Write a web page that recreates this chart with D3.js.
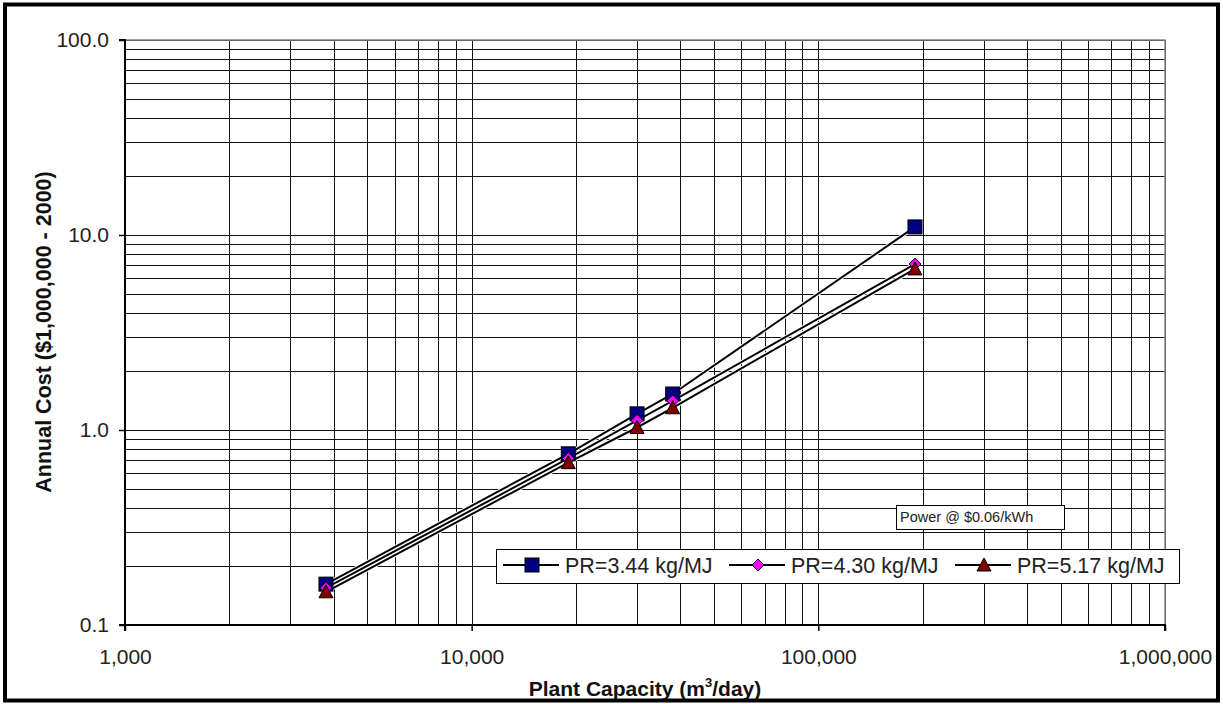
<!DOCTYPE html>
<html><head><meta charset="utf-8">
<script src="https://cdn.jsdelivr.net/npm/d3@7"></script>
<style>
html,body{margin:0;padding:0;background:#fff;}
svg{display:block;font-family:"Liberation Sans",Arial,sans-serif;}
</style></head>
<body>
<svg id="chart" width="1223" height="704"></svg>
<script>
const capacities = [3800, 19000, 30000, 38000, 190000];
const seriesNames = ["PR=3.44 kg/MJ", "PR=4.30 kg/MJ", "PR=5.17 kg/MJ"];
const pr344 = [0.162, 0.755, 1.21, 1.53, 11.0];
const pr430 = [0.155, 0.715, 1.12, 1.41, 7.1];
const pr517 = [0.148, 0.68, 1.03, 1.30, 6.7];
const xTickLabels = ["1,000", "10,000", "100,000", "1,000,000"];
const yTickLabels = ["0.1", "1.0", "10.0", "100.0"];
const annotation = "Power @ $0.06/kWh";

const svg = d3.select("#chart");
const L = 125, R = 1165, T = 40, B = 625;
const x = d3.scaleLog().domain([1000, 1e6]).range([L, R]);
const y = d3.scaleLog().domain([0.1, 100]).range([B, T]);

// outer frame
svg.append("rect").attr("x", 5).attr("y", 4.5).attr("width", 1213).attr("height", 696)
  .attr("fill", "#fff").attr("stroke", "#000").attr("stroke-width", 4);

// grid
const gridVals = (lo, hi) => { const a = []; for (let d = lo; d < hi; d *= 10) for (let k = 1; k <= 9; k++) a.push(d * k); a.push(hi); return a; };
const g = svg.append("g");
g.selectAll(".vg").data(gridVals(1000, 1e6)).join("line")
  .attr("x1", d => Math.round(x(d)) + 0.5).attr("x2", d => Math.round(x(d)) + 0.5)
  .attr("y1", T).attr("y2", B).attr("stroke", "#111").attr("stroke-width", 1);
g.selectAll(".hg").data(gridVals(0.1, 100)).join("line")
  .attr("y1", d => Math.round(y(d)) + 0.5).attr("y2", d => Math.round(y(d)) + 0.5)
  .attr("x1", L).attr("x2", R).attr("stroke", "#111").attr("stroke-width", 1);
// plot frame gray
svg.append("rect").attr("x", L).attr("y", T).attr("width", R - L).attr("height", B - T)
  .attr("fill", "none").attr("stroke", "#888").attr("stroke-width", 1.5);

// axes
const xMaj = [1000, 1e4, 1e5, 1e6];
const yMaj = [0.1, 1, 10, 100];
const xAxis = d3.axisBottom(x).tickValues(xMaj).tickFormat((d, i) => xTickLabels[i]).tickSize(6).tickPadding(18);
const yAxis = d3.axisLeft(y).tickValues(yMaj).tickFormat((d, i) => yTickLabels[i]).tickSize(6).tickPadding(10);
const xa = svg.append("g").attr("transform", `translate(0,${B})`).call(xAxis);
const ya = svg.append("g").attr("transform", `translate(${L},0)`).call(yAxis);
[xa, ya].forEach(a => {
  a.select(".domain").attr("stroke", "#000").attr("stroke-width", 2);
  a.selectAll(".tick line").attr("stroke", "#000").attr("stroke-width", 1.5);
  a.selectAll("text").attr("font-size", 21).attr("fill", "#222").attr("font-family", "Liberation Sans, Arial, sans-serif");
});
ya.select(".domain").attr("d", `M-6,${T}H0V${B}H-6`);
xa.select(".domain").attr("d", `M${L},6V0H${R}V6`);

// axis titles
svg.append("text").attr("x", 645).attr("y", 696).attr("text-anchor", "middle")
  .attr("font-size", 21).attr("font-weight", "bold").attr("fill", "#111")
  .html('Plant Capacity (m<tspan dy="-9" font-size="13">3</tspan><tspan dy="9">/day)</tspan>');
svg.append("text").attr("transform", "translate(51,332) rotate(-90)").attr("text-anchor", "middle")
  .attr("font-size", 21.5).attr("font-weight", "bold").attr("fill", "#111").text("Annual Cost ($1,000,000 - 2000)");

// series
const series = [
  { name: seriesNames[0], vals: pr344, shape: "square", fill: "#000080" },
  { name: seriesNames[1], vals: pr430, shape: "diamond", fill: "#ff00ff" },
  { name: seriesNames[2], vals: pr517, shape: "triangle", fill: "#800000" }
];
const line = d3.line().x(d => x(d[0])).y(d => y(d[1]));
function marker(sel, s) {
  if (s.shape === "square") {
    sel.append("rect").attr("x", -7).attr("y", -7).attr("width", 14).attr("height", 14)
      .attr("fill", s.fill).attr("stroke", "#000").attr("stroke-width", 1);
  } else if (s.shape === "diamond") {
    sel.append("path").attr("d", "M0,-6L6,0L0,6L-6,0Z")
      .attr("fill", s.fill).attr("stroke", "#000").attr("stroke-width", 1);
  } else {
    sel.append("path").attr("d", "M0,-7L7,6L-7,6Z")
      .attr("fill", s.fill).attr("stroke", "#000").attr("stroke-width", 1);
  }
}
series.forEach(s => {
  svg.append("path").datum(capacities.map((c, i) => [c, s.vals[i]]))
    .attr("d", line).attr("fill", "none").attr("stroke", "#fff").attr("stroke-width", 4);
});
series.forEach(s => {
  svg.append("path").datum(capacities.map((c, i) => [c, s.vals[i]]))
    .attr("d", line).attr("fill", "none").attr("stroke", "#000").attr("stroke-width", 2);
});
series.forEach(s => {
  capacities.forEach((c, i) => {
    const m = svg.append("g").attr("transform", `translate(${x(c)},${y(s.vals[i])})`);
    marker(m, s);
  });
});

// annotation box
svg.append("rect").attr("x", 896.5).attr("y", 505.5).attr("width", 168).attr("height", 24)
  .attr("fill", "#fff").attr("stroke", "#000").attr("stroke-width", 1);
svg.append("text").attr("x", 900).attr("y", 522).attr("font-size", 14.5).attr("fill", "#222").text(annotation);

// legend
svg.append("rect").attr("x", 496.5).attr("y", 549.5).attr("width", 683).attr("height", 34)
  .attr("fill", "#fff").attr("stroke", "#000").attr("stroke-width", 1);
const legX = [503, 729, 955];
series.forEach((s, i) => {
  const lg = svg.append("g").attr("transform", `translate(${legX[i]},565)`);
  lg.append("line").attr("x1", 0).attr("x2", 56).attr("stroke", "#000").attr("stroke-width", 2);
  const m = lg.append("g").attr("transform", "translate(29,0)");
  marker(m, s);
  lg.append("text").attr("x", 62).attr("y", 8).attr("font-size", 21.5).attr("fill", "#222").text(s.name);
});
</script>
</body></html>
